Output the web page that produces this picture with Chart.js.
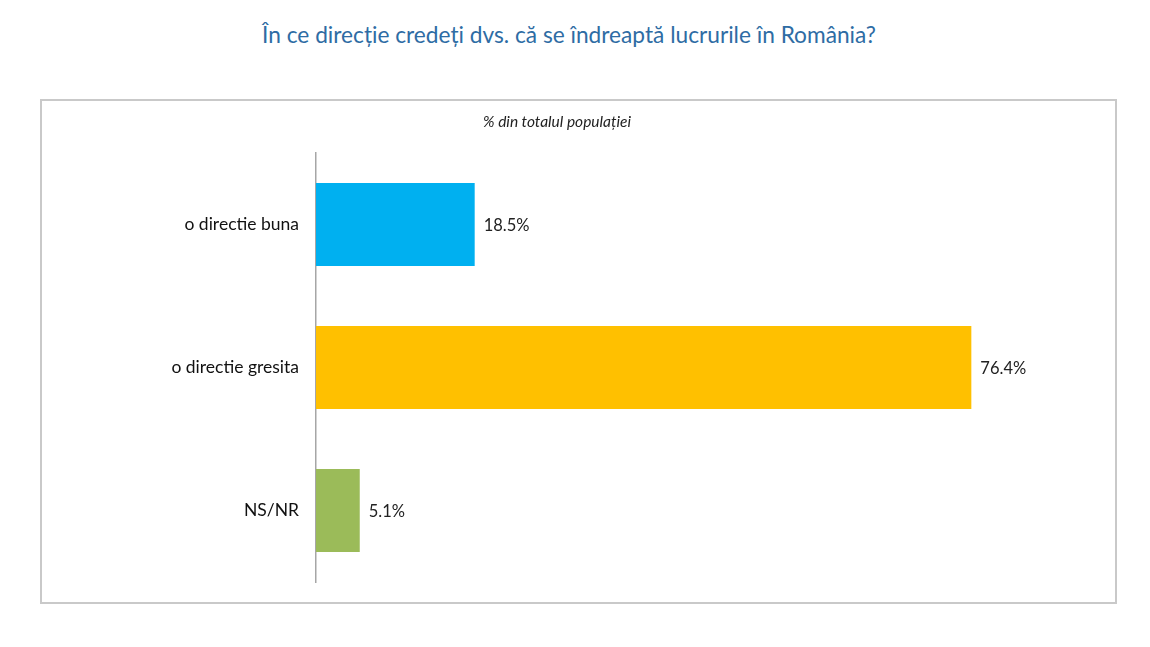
<!DOCTYPE html>
<html lang="ro">
<head>
<meta charset="utf-8">
<title>Direcția în care se îndreaptă lucrurile în România</title>
<script src="https://cdn.jsdelivr.net/npm/chart.js@4.4.1/dist/chart.umd.min.js"></script>
<style>
    html, body {
        margin: 0;
        padding: 0;
        background: #fff;
        width: 1150px;
        height: 647px;
        overflow: hidden;
        font-family: 'Lato', 'Open Sans', sans-serif;
    }
    #title {
        position: absolute;
        left: 0;
        top: 21px;
        width: 1138px;
        text-align: center;
        font-size: 22.7px;
        color: #2e6ca4;
        font-weight: normal;
        margin: 0;
    }
    #frame {
        position: absolute;
        left: 40px;
        top: 99px;
        width: 1073px;
        height: 501px;
        border: 2px solid #c9c9c9;
    }
    #subtitle {
        position: absolute;
        left: 0;
        top: 112px;
        width: 1114px;
        text-align: center;
        font-size: 15.5px;
        font-style: italic;
        color: #222;
        z-index: 2;
    }
    #chart {
        position: absolute;
        left: 0;
        top: 0;
    }
</style>
</head>
<body>
<h1 id="title">În ce direcție credeți dvs. că se îndreaptă lucrurile în România?</h1>
<div id="subtitle">% din totalul populației</div>
<div id="frame">
    <canvas id="chart" width="1073" height="501"></canvas>
</div>
<script>
'use strict';

// ----------------------------------------------------------------------------
// Data
// ----------------------------------------------------------------------------

const categories = ['o directie buna', 'o directie gresita', 'NS/NR'];
const values = [18.5, 76.4, 5.1];
const barColors = ['#00b0f0', '#ffc000', '#9bbb59'];

// ----------------------------------------------------------------------------
// Value labels next to each bar
// ----------------------------------------------------------------------------

const valueLabels = {
    id: 'valueLabels',
    afterDatasetsDraw(chart) {
        const ctx = chart.ctx;
        const meta = chart.getDatasetMeta(0);
        ctx.save();
        ctx.font = "16.5px 'Lato', 'Open Sans', sans-serif";
        ctx.fillStyle = '#222';
        ctx.textAlign = 'left';
        ctx.textBaseline = 'middle';
        meta.data.forEach((bar, i) => {
            ctx.fillText(values[i].toFixed(1) + '%', bar.x + 9, bar.y + 1);
        });
        ctx.restore();
    }
};

// ----------------------------------------------------------------------------
// Chart
// ----------------------------------------------------------------------------

const canvas = document.getElementById('chart');

new Chart(canvas, {
    type: 'bar',
    data: {
        labels: categories,
        datasets: [{
            data: values,
            backgroundColor: barColors,
            borderWidth: 0,
            categoryPercentage: 1,
            barPercentage: 0.58
        }]
    },
    options: {
        indexAxis: 'y',
        responsive: false,
        animation: false,
        layout: {
            padding: { left: 0, right: 27, top: 52, bottom: 20 }
        },
        plugins: {
            legend: { display: false },
            tooltip: { enabled: false }
        },
        scales: {
            x: {
                display: false,
                min: 0,
                max: 90
            },
            y: {
                afterFit(scale) {
                    // fixed label column, no extra space reserved for end labels
                    scale.width = 274;
                    scale.paddingTop = 0;
                    scale.paddingBottom = 0;
                },
                grid: { display: false, drawTicks: false },
                border: { display: true, color: '#a6a6a6', width: 1.5 },
                ticks: {
                    padding: 17,
                    color: '#111',
                    font: { family: "'Lato', 'Open Sans', sans-serif", size: 17.5 }
                }
            }
        }
    },
    plugins: [valueLabels]
});
</script>
</body>
</html>
